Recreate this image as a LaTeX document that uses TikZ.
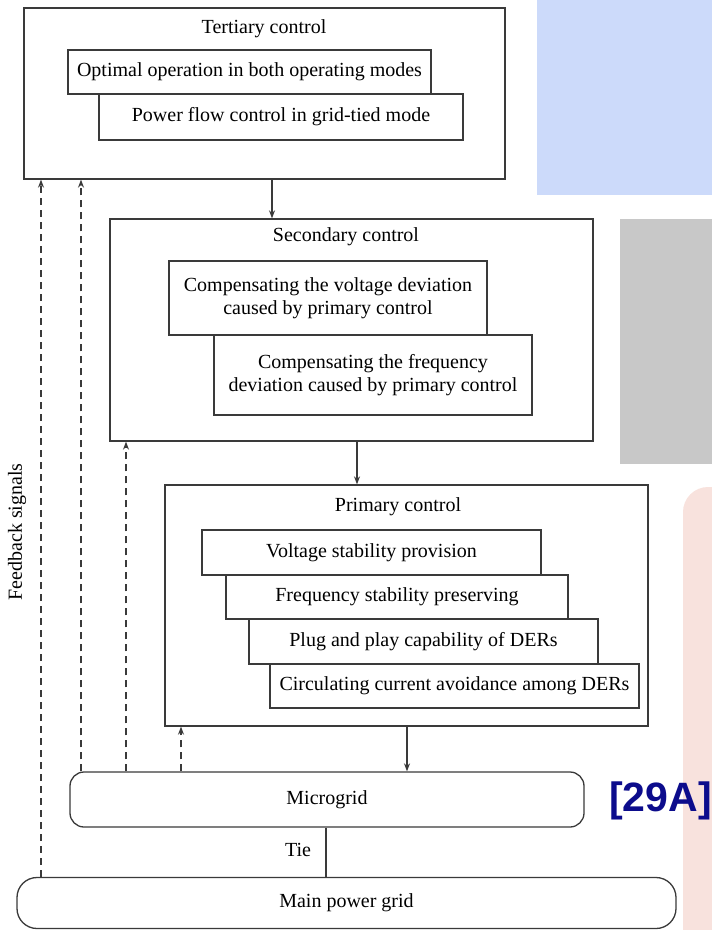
\documentclass[tikz,border=0pt]{standalone}
\usepackage{fontspec}
\setmainfont{Liberation Serif}
\newfontfamily\lsans{Liberation Sans}
\usetikzlibrary{arrows.meta}
\definecolor{bgblue}{HTML}{CCDAFA}
\definecolor{bggray}{HTML}{C8C8C8}
\definecolor{bgpink}{HTML}{F8E2DD}
\definecolor{refnavy}{RGB}{12,12,140}
\definecolor{linec}{HTML}{3A3A3A}
\tikzset{
  box/.style={draw=linec, line width=1.3pt, fill=white, inner sep=0pt, align=center, font=\fontsize{20}{23}\selectfont},
  rbox/.style={box, rounded corners=#1},
  ttl/.style={inner sep=0pt, font=\fontsize{20}{23}\selectfont},
  flow/.style={draw=linec, line width=1.2pt, -{Stealth[length=8pt,width=6pt]}},
  fb/.style={draw=linec, line width=1.2pt, dash pattern=on 7pt off 5pt, -{Stealth[length=8pt,width=6pt]}},
  tie/.style={draw=linec, line width=1.2pt}
}
\begin{document}
\begin{tikzpicture}[x=1pt,y=-1pt]
\useasboundingbox (0,0) rectangle (712,930);
% background decorations
\fill[bgblue] (537,0) rectangle (712,195);
\fill[bggray] (620,219) rectangle (712,464);
\fill[bgpink, rounded corners=25pt] (683,960) -- (683,487) -- (760,487) -- (760,960) -- cycle;

% tertiary
\node[box, minimum width=481pt, minimum height=171pt] (ter) at (264.5,93.5) {};
\node[ttl] (tertl) at (264,29) {Tertiary control};
\node[box, minimum width=363pt, minimum height=44pt] (t1) at (249.5,72) {Optimal operation in both operating modes};
\node[box, minimum width=364pt, minimum height=46pt] (t2) at (281,117) {Power flow control in grid-tied mode};

% secondary
\node[box, minimum width=483pt, minimum height=222pt] (sec) at (351.5,330) {};
\node[ttl] (sectl) at (346,237) {Secondary control};
\node[box, minimum width=318pt, minimum height=74pt] (s1) at (328,298) {Compensating the voltage deviation\\caused by primary control};
\node[box, minimum width=318pt, minimum height=80pt] (s2) at (373,375) {Compensating the frequency\\deviation caused by primary control};

% primary
\node[box, minimum width=483pt, minimum height=241pt] (pri) at (406.5,605.5) {};
\node[ttl] (pritl) at (398,507) {Primary control};
\node[box, minimum width=339pt, minimum height=45pt] (p1) at (371.5,552.5) {Voltage stability provision};
\node[box, minimum width=342pt, minimum height=44pt] (p2) at (397,597) {Frequency stability preserving};
\node[box, minimum width=349pt, minimum height=45pt] (p3) at (423.5,641.5) {Plug and play capability of DERs};
\node[box, minimum width=369pt, minimum height=44pt] (p4) at (454.5,686) {Circulating current avoidance among DERs};

% grids
\node[rbox=14pt, minimum width=514pt, minimum height=55pt] (mg) at (327,799.5) {Microgrid};
\node[rbox=20pt, minimum width=659pt, minimum height=51pt] (main) at (346.5,903) {Main power grid};

% x positions
\coordinate (x41) at (41,0);
\coordinate (x81) at (81,0);
\coordinate (x126) at (126,0);
\coordinate (x181) at (181,0);
\coordinate (x272) at (272,0);
\coordinate (x357) at (357,0);
\coordinate (x407) at (407,0);
\coordinate (x326) at (326,0);

% flow arrows
\draw[flow] (ter.south -| x272) -- (sec.north -| x272);
\draw[flow] (sec.south -| x357) -- (pri.north -| x357);
\draw[flow] (pri.south -| x407) -- (mg.north -| x407);
\draw[tie] (mg.south -| x326) -- (main.north -| x326);
\node[ttl] (tiel) at (298,850) {Tie};

% feedback
\draw[fb] (main.north -| x41) -- (ter.south -| x41);
\draw[fb] (mg.north -| x81) -- (ter.south -| x81);
\draw[fb] (mg.north -| x126) -- (sec.south -| x126);
\draw[fb] (mg.north -| x181) -- (pri.south -| x181);
\node[ttl, rotate=90] (fbl) at (17,532) {Feedback signals};

% reference tag
\node[inner sep=0pt, anchor=east, text=refnavy, font=\lsans\bfseries\fontsize{41}{45}\selectfont] (tag) at (712,801) {[29A]};
\end{tikzpicture}
\end{document}
